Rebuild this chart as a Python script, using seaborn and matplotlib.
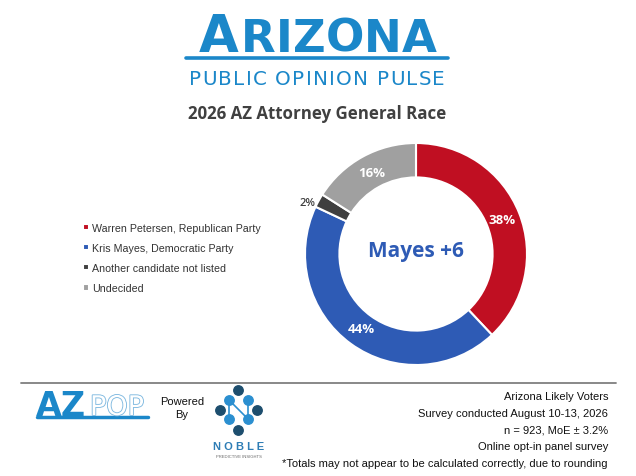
import matplotlib
matplotlib.use("Agg")
import matplotlib.pyplot as plt
import matplotlib.patheffects as pe
import seaborn as sns
import numpy as np

# data
candidates = ["Warren Petersen, Republican Party",
              "Kris Mayes, Democratic Party",
              "Another candidate not listed",
              "Undecided"]
shares = [38, 44, 2, 16]
share_labels = ["38%", "44%", "2%", "16%"]
colors = ["#C00F22", "#2E5BB5", "#3F3F3F", "#A0A0A0"]
center_text = "Mayes +6"
title = "2026 AZ Attorney General Race"
footer_lines = ["Arizona Likely Voters",
                "Survey conducted August 10-13, 2026",
                "n = 923, MoE \u00b1 3.2%",
                "Online opt-in panel survey",
                "*Totals may not appear to be calculated correctly, due to rounding"]

sns.set_style("white")
plt.rcParams["font.family"] = ["Liberation Sans", "DejaVu Sans"]

W, H = 636, 477
fig = plt.figure(figsize=(W / 100, H / 100), dpi=100)
fig.patch.set_facecolor("white")
renderer = fig.canvas.get_renderer()

def fx(x):
    return x / W

def fy(y):
    return 1 - y / H

def spread(text, x0, x1, y, space=6, **kw):
    # letter-spaced text filling x0..x1 (pixel coords)
    arts, widths = [], []
    for ch in text:
        t = fig.text(0, fy(y), ch, va="baseline", ha="left", **kw)
        arts.append(t)
        widths.append(space if ch == " " else
                      t.get_window_extent(renderer).width)
    gap = (x1 - x0 - sum(widths)) / (len(text) - 1)
    x = x0
    for t, w in zip(arts, widths):
        t.set_x(fx(x))
        x += w + gap

BLUE = "#1B87C9"
GREY = "#404040"

# ── header ───────────────────────────────────────────────
fig.text(fx(199), fy(52), "A", fontsize=37, fontweight="bold", color=BLUE,
         family="DejaVu Sans", va="baseline", ha="left")
spread("RIZONA", 241, 437, 52, fontsize=32.5, fontweight="bold", color=BLUE,
       family="DejaVu Sans")
fig.add_artist(plt.Line2D([fx(186), fx(448)], [fy(59), fy(59)], color=BLUE,
                          linewidth=2.6))
spread("PUBLIC OPINION PULSE", 189, 445, 85, space=6, fontsize=14.3,
       color=BLUE, family="DejaVu Sans")
fig.text(fx(317), fy(114), title, fontsize=12.2, fontweight="bold", color=GREY,
         family="Open Sans", va="center", ha="center")

# ── donut ────────────────────────────────────────────────
cx, cy, r = 416, 255, 111
ax = fig.add_axes([fx(cx - r), fy(cy + r), 2 * r / W, 2 * r / H])
wedges, _ = ax.pie(shares, colors=colors, startangle=90, counterclock=False,
                   radius=1, wedgeprops=dict(width=0.31, edgecolor="white",
                                              linewidth=1.5))
ax.set_xlim(-1, 1)
ax.set_ylim(-1, 1)
ax.set_aspect("equal")
ax.axis("off")

for w, lab in zip(wedges, share_labels):
    ang = np.deg2rad((w.theta1 + w.theta2) / 2)
    if lab == "2%":
        ax.text(1.12 * np.cos(ang), 0.96 * np.sin(ang), lab,
                ha="center", va="center", fontsize=8, fontweight="semibold",
                color=GREY, family="Open Sans")
    else:
        ax.text(0.835 * np.cos(ang), 0.835 * np.sin(ang), lab, ha="center",
                va="center", fontsize=9.5, fontweight="bold", color="white",
                family="Open Sans")
ax.text(0, 0.03, center_text, ha="center", va="center", fontsize=15,
        fontweight="bold", color="#2E5BB5", family="Open Sans")

# ── legend ───────────────────────────────────────────────
fig.legend(wedges, candidates, loc="upper left",
           bbox_to_anchor=(fx(73), fy(214)), frameon=False,
           handlelength=0.55, handleheight=0.55, handletextpad=0.35,
           labelspacing=0.95, labelcolor="#333333",
           prop=dict(family="Liberation Sans", size=7.7))

# ── footer ───────────────────────────────────────────────
fig.add_artist(plt.Line2D([fx(21), fx(616)], [fy(384), fy(384)],
                          color="#7F7F7F", linewidth=1.3))
for i, line in enumerate(footer_lines):
    fig.text(fx(608), fy(397 + 16.8 * i), line, ha="right", va="center",
             fontsize=8, color="#111111", family="Liberation Sans")

# AZPOP logo
fig.text(fx(36), fy(416), "AZ", fontsize=24, fontweight="bold", color=BLUE,
         family="DejaVu Sans", va="baseline", ha="left")
fig.text(fx(90), fy(416), "POP", fontsize=19.5, color="white",
         family="DejaVu Sans", va="baseline", ha="left",
         path_effects=[pe.withStroke(linewidth=1.3, foreground="#7FB9E0")])
fig.add_artist(plt.Line2D([fx(37), fx(148)], [fy(418), fy(418)], color=BLUE,
                          linewidth=2.5))
fig.text(fx(182), fy(402), "Powered", ha="center", va="center", fontsize=8,
         color="#111111", family="Liberation Sans")
fig.text(fx(182), fy(415), "By", ha="center", va="center", fontsize=8,
         color="#111111", family="Liberation Sans")

# Noble logo
NAVY = "#1D4E6E"
LIGHT = "#2B8FD0"
lines_n = [((229, 401), (229, 420)), ((229, 401), (248, 420)),
           ((248, 401), (248, 420))]
for (x0, y0), (x1, y1) in lines_n:
    fig.add_artist(plt.Line2D([fx(x0), fx(x1)], [fy(y0), fy(y1)],
                              color=LIGHT, linewidth=1.2))
dots = [(238, 391, NAVY), (220, 411, NAVY), (257, 411, NAVY), (238, 431, NAVY),
        (229, 401, LIGHT), (248, 401, LIGHT), (229, 420, LIGHT),
        (248, 420, LIGHT)]
for x, y, c in dots:
    fig.add_artist(plt.Line2D([fx(x)], [fy(y)], marker="o", markersize=6.8,
                              color=c, linestyle="none"))
fig.text(fx(239), fy(447), "N O B L E", ha="center", va="center", fontsize=8,
         fontweight="bold", color="#2E7DB5", family="Liberation Sans")
fig.text(fx(239), fy(457), "PREDICTIVE INSIGHTS", ha="center", va="center",
         fontsize=3, color="#666666", family="Liberation Sans")

fig.savefig("out.png", dpi=100, facecolor="white")
